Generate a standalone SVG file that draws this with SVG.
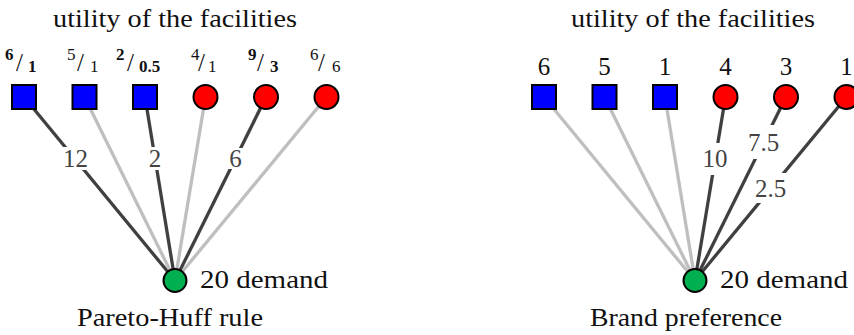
<svg xmlns="http://www.w3.org/2000/svg" width="854" height="335" viewBox="0 0 854 335">
<style>
text{font-family:"Liberation Serif","DejaVu Serif",serif;fill:#111}
.t{font-size:25px}
.num{font-size:17px}
.sl{font-size:25px}
.b{font-weight:bold}
.lab{font-size:25px;fill:#444;text-anchor:middle}
.dk{stroke:#404040;stroke-width:3.3;fill:none}
.lt{stroke:#bfbfbf;stroke-width:3.3;fill:none}
.sq{fill:#0000ff;stroke:#000;stroke-width:2}
.ci{fill:#ff0000;stroke:#000;stroke-width:2}
.dm{fill:#00b050;stroke:#000;stroke-width:2}
.bg{fill:#fff}
</style>
<g id="connectors">
<line class="dk" x1="24" y1="97" x2="175" y2="280.5"/>
<line class="lt" x1="84.5" y1="97" x2="175" y2="280.5"/>
<line class="dk" x1="145" y1="97" x2="175" y2="280.5"/>
<line class="lt" x1="205.5" y1="97" x2="175" y2="280.5"/>
<line class="dk" x1="266" y1="97" x2="175" y2="280.5"/>
<line class="lt" x1="326.5" y1="97" x2="175" y2="280.5"/>
<rect class="bg" x="60" y="147" width="31" height="23"/>
<text class="lab" x="75.5" y="167">12</text>
<rect class="bg" x="147" y="147" width="16" height="23"/>
<text class="lab" x="155" y="167">2</text>
<rect class="bg" x="227" y="148" width="17" height="21"/>
<text class="lab" x="235.5" y="167">6</text>
<line class="lt" x1="544" y1="97" x2="695" y2="280.5"/>
<line class="lt" x1="604.5" y1="97" x2="695" y2="280.5"/>
<line class="lt" x1="665" y1="97" x2="695" y2="280.5"/>
<line class="dk" x1="725.5" y1="97" x2="695" y2="280.5"/>
<line class="dk" x1="786" y1="97" x2="695" y2="280.5"/>
<line class="dk" x1="846.5" y1="97" x2="695" y2="280.5"/>
<rect class="bg" x="700" y="143" width="30" height="32"/>
<text class="lab" x="715" y="167">10</text>
<rect class="bg" x="745" y="125" width="37" height="34"/>
<text class="lab" x="763.5" y="151">7.5</text>
<rect class="bg" x="751" y="173" width="39" height="30"/>
<text class="lab" x="770.5" y="197">2.5</text>
</g>
<g id="left-title"><text class="t" x="175" y="27" text-anchor="middle" textLength="244" lengthAdjust="spacingAndGlyphs">utility of the facilities</text></g>
<g id="right-title"><text class="t" x="693" y="27" text-anchor="middle" textLength="244" lengthAdjust="spacingAndGlyphs">utility of the facilities</text></g>
<g id="L1"><rect class="sq" x="12" y="85" width="24" height="24"/>
<text class="num b" x="5" y="60">6</text><text class="sl" x="16" y="71">/</text><text class="num b" x="28" y="72">1</text></g>
<g id="L2"><rect class="sq" x="72.5" y="85" width="24" height="24"/>
<text class="num" x="67" y="60">5</text><text class="sl" x="77" y="71">/</text><text class="num" x="90" y="72">1</text></g>
<g id="L3"><rect class="sq" x="133" y="85" width="24" height="24"/>
<text class="num b" x="116" y="60">2</text><text class="sl" x="127" y="71">/</text><text class="num b" x="139" y="72">0.5</text></g>
<g id="L4"><circle class="ci" cx="205.5" cy="97" r="12"/>
<text class="num" x="191" y="60">4</text><text class="sl" x="198" y="71">/</text><text class="num" x="208" y="72">1</text></g>
<g id="L5"><circle class="ci" cx="266" cy="97" r="12"/>
<text class="num b" x="248" y="60">9</text><text class="sl" x="257" y="71">/</text><text class="num b" x="270" y="72">3</text></g>
<g id="L6"><circle class="ci" cx="326.5" cy="97" r="12"/>
<text class="num" x="310" y="60">6</text><text class="sl" x="318" y="71">/</text><text class="num" x="332" y="72">6</text></g>
<g id="L-demand"><circle class="dm" cx="175" cy="280.5" r="11.5"/>
<text class="t" x="200" y="288" textLength="128" lengthAdjust="spacingAndGlyphs">20 demand</text></g>
<g id="L-caption"><text class="t" x="170" y="326" text-anchor="middle" textLength="186" lengthAdjust="spacingAndGlyphs">Pareto-Huff rule</text></g>
<g id="R1"><rect class="sq" x="532" y="85" width="24" height="24"/><text class="t" x="544" y="75" text-anchor="middle">6</text></g>
<g id="R2"><rect class="sq" x="592.5" y="85" width="24" height="24"/><text class="t" x="604.5" y="75" text-anchor="middle">5</text></g>
<g id="R3"><rect class="sq" x="653" y="85" width="24" height="24"/><text class="t" x="665" y="75" text-anchor="middle">1</text></g>
<g id="R4"><circle class="ci" cx="725.5" cy="97" r="12"/><text class="t" x="725.5" y="75" text-anchor="middle">4</text></g>
<g id="R5"><circle class="ci" cx="786" cy="97" r="12"/><text class="t" x="786" y="75" text-anchor="middle">3</text></g>
<g id="R6"><circle class="ci" cx="846.5" cy="97" r="12"/><text class="t" x="846.5" y="75" text-anchor="middle">1</text></g>
<g id="R-demand"><circle class="dm" cx="695" cy="280.5" r="11.5"/>
<text class="t" x="720" y="288" textLength="128" lengthAdjust="spacingAndGlyphs">20 demand</text></g>
<g id="R-caption"><text class="t" x="686" y="326" text-anchor="middle" textLength="192" lengthAdjust="spacingAndGlyphs">Brand preference</text></g>
</svg>
